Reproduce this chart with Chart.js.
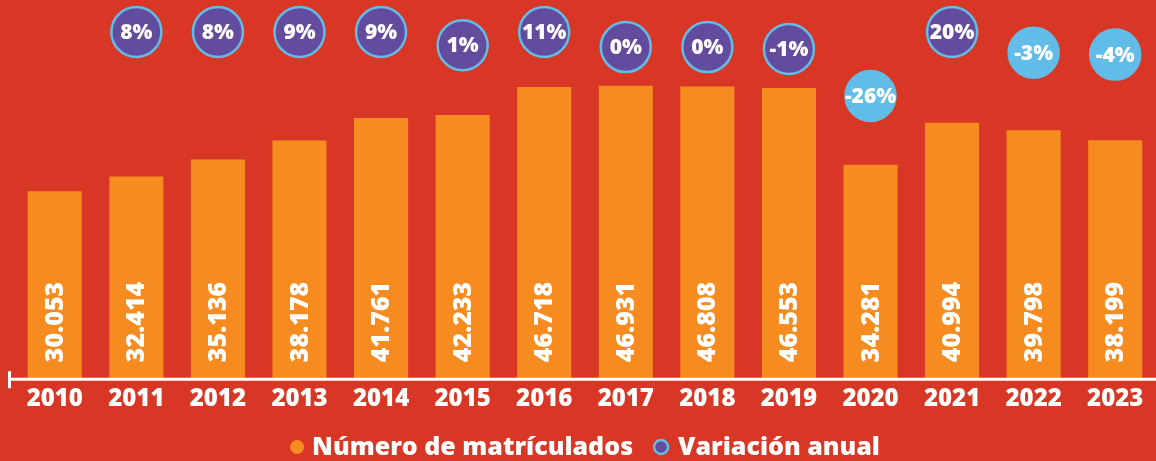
<!DOCTYPE html>
<html>
<head>
<meta charset="utf-8">
<script src="https://cdn.jsdelivr.net/npm/chart.js@4.4.1/dist/chart.umd.min.js"></script>
<style>
    html, body { margin: 0; padding: 0; background: #d93725; }
    #wrap { width: 1156px; height: 461px; }
</style>
</head>
<body>
<div id="wrap"><canvas id="chart" width="1156" height="461"></canvas></div>
<script>
const years = ['2010', '2011', '2012', '2013', '2014', '2015', '2016', '2017', '2018', '2019', '2020', '2021', '2022', '2023'];
const matriculados = [30053, 32414, 35136, 38178, 41761, 42233, 46718, 46931, 46808, 46553, 34281, 40994, 39798, 38199];
const variacion = [null, 8, 8, 9, 9, 1, 11, 0, 0, -1, -26, 20, -3, -4];
const legendLabels = ['Número de matrículados', 'Variación anual'];

const FONT = "'Open Sans', 'Liberation Sans', sans-serif";
const ORANGE = '#f68b1f';
const PURPLE = '#634b9e';
const BLUE = '#62bce8';

// thousands with a dot, like the original
function fmt(n) {
    return String(n).replace(/\B(?=(\d{3})+(?!\d))/g, '.');
}

// linear scale that pins values above clampMax to clampMax
class ClampedScale extends Chart.LinearScale {
    getPixelForValue(value) {
        const c = this.options.clampMax;
        if (c !== undefined && value > c) value = c;
        return super.getPixelForValue(value);
    }
}
ClampedScale.id = 'clamped';
ClampedScale.defaults = Chart.LinearScale.defaults;
Chart.register(ClampedScale);

// labels inside bars and bubbles, the baseline and the legend
const labelsPlugin = {
    id: 'labels',
    afterDatasetsDraw(chart) {
        const ctx = chart.ctx;
        const base = chart.scales.y.getPixelForValue(0);

        ctx.save();
        ctx.fillStyle = '#ffffff';
        ctx.font = '800 25px ' + FONT;
        chart.getDatasetMeta(0).data.forEach((bar, i) => {
            ctx.save();
            ctx.translate(bar.x, base - 17);
            ctx.rotate(-Math.PI / 2);
            ctx.textAlign = 'left';
            ctx.textBaseline = 'middle';
            ctx.fillText(fmt(matriculados[i]), 0, 1);
            ctx.restore();
        });

        ctx.font = '800 21px ' + FONT;
        ctx.textAlign = 'center';
        ctx.textBaseline = 'middle';
        chart.getDatasetMeta(1).data.forEach((pt, i) => {
            if (variacion[i] === null) return;
            ctx.fillText(variacion[i] + '%', pt.x, pt.y + 1);
        });

        // baseline with the small tick at the left
        ctx.strokeStyle = '#ffffff';
        ctx.lineWidth = 3;
        ctx.beginPath();
        ctx.moveTo(9, base);
        ctx.lineTo(chart.width, base);
        ctx.stroke();
        ctx.beginPath();
        ctx.moveTo(9.5, base - 8);
        ctx.lineTo(9.5, base + 9);
        ctx.stroke();

        // legend
        ctx.font = '800 25px ' + FONT;
        ctx.textAlign = 'left';
        const w1 = ctx.measureText(legendLabels[0]).width;
        const w2 = ctx.measureText(legendLabels[1]).width;
        const total = 14 + 8 + w1 + 20 + 16 + 9 + w2;
        const cy = 447;
        let x = (chart.chartArea.left + chart.chartArea.right) / 2 - total / 2;
        ctx.fillStyle = ORANGE;
        ctx.beginPath();
        ctx.arc(x + 7, cy, 7, 0, Math.PI * 2);
        ctx.fill();
        x += 22;
        ctx.fillStyle = '#ffffff';
        ctx.fillText(legendLabels[0], x, cy + 1);
        x += w1 + 20;
        ctx.fillStyle = PURPLE;
        ctx.strokeStyle = BLUE;
        ctx.lineWidth = 2.5;
        ctx.beginPath();
        ctx.arc(x + 8, cy, 7, 0, Math.PI * 2);
        ctx.fill();
        ctx.stroke();
        x += 25;
        ctx.fillStyle = '#ffffff';
        ctx.fillText(legendLabels[1], x, cy + 1);
        ctx.restore();
    }
};

const bubbleFill = variacion.map(v => v !== null && v < -1 ? BLUE : PURPLE);

new Chart(document.getElementById('chart'), {
    data: {
        labels: years,
        datasets: [
            {
                type: 'bar',
                label: legendLabels[0],
                data: matriculados,
                backgroundColor: ORANGE,
                borderWidth: 0,
                categoryPercentage: 1,
                barPercentage: 0.663,
                yAxisID: 'y'
            },
            {
                type: 'line',
                label: legendLabels[1],
                data: variacion,
                showLine: false,
                yAxisID: 'y2',
                pointRadius: 25,
                pointHoverRadius: 25,
                pointBorderWidth: 2.5,
                pointBackgroundColor: bubbleFill,
                pointBorderColor: BLUE,
                clip: false
            }
        ]
    },
    options: {
        responsive: false,
        animation: false,
        events: [],
        layout: { autoPadding: false, padding: { left: 14, right: 0, top: 4, bottom: 41 } },
        scales: {
            x: {
                grid: { display: false, drawTicks: false },
                border: { display: false },
                ticks: {
                    color: '#ffffff',
                    padding: 6,
                    font: { family: FONT, size: 24, weight: '800' }
                }
            },
            y: {
                display: false,
                min: 0,
                max: 60000
            },
            y2: {
                type: 'clamped',
                display: false,
                min: -176.4,
                max: 22.88,
                clampMax: 8
            }
        },
        plugins: {
            tooltip: { enabled: false },
            legend: { display: false }
        }
    },
    plugins: [labelsPlugin]
});
</script>
</body>
</html>
